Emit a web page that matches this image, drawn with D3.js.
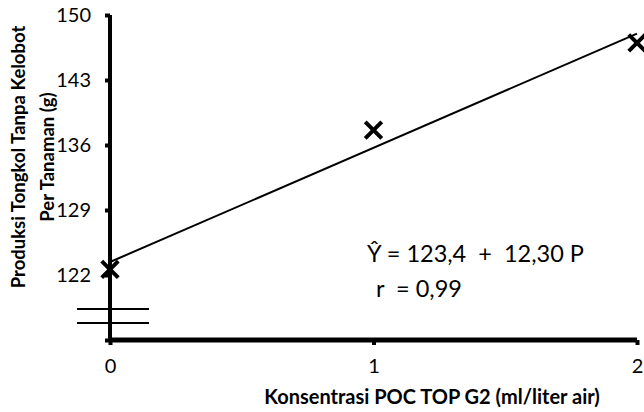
<!DOCTYPE html>
<html>
<head>
<meta charset="utf-8">
<script src="https://cdn.jsdelivr.net/npm/d3@7"></script>
<style>
  body { margin: 0; background: #fff; }
  svg { display: block; font-family: Lato, "Open Sans", sans-serif; }
</style>
</head>
<body>
<div id="chart"></div>
<script>
// --- Data ---
const concentrations = [0, 1, 2];
const yields = [122.6, 137.6, 147.0];
const yTicks = [115, 122, 129, 136, 143, 150];
const xTicks = [0, 1, 2];
const fitIntercept = 123.4;
const fitSlope = 12.3;
const yTitleLines = ["Produksi Tongkol Tanpa Kelobot", "Per Tanaman (g)"];
const xTitle = "Konsentrasi POC TOP G2 (ml/liter air)";
const equationLines = ["Ŷ = 123,4  +  12,30 P", "r  = 0,99"];

// --- Layout ---
const WIDTH = 644;
const HEIGHT = 412;
const X0 = 110, X1 = 637;
const Y0 = 340, Y1 = 15;

const svg = d3.select("#chart").append("svg")
  .attr("width", WIDTH)
  .attr("height", HEIGHT);

const x = d3.scaleLinear().domain([0, 2]).range([X0, X1]);
const y = d3.scaleLinear().domain([115, 150]).range([Y0, Y1]);

// y axis
const yAxis = svg.append("g")
  .attr("transform", `translate(${X0},0)`)
  .call(d3.axisLeft(y).tickValues(yTicks).tickSize(5).tickFormat(d => d === 115 ? "" : d));
yAxis.select(".domain").attr("stroke", "#000").attr("stroke-width", 4)
  .attr("d", `M0,${Y0}V${Y1}`);
yAxis.selectAll(".tick line").attr("stroke", "#000").attr("stroke-width", 4);
yAxis.selectAll(".tick text").attr("x", -19).attr("font-size", 20)
  .attr("font-family", "Lato, sans-serif").attr("fill", "#000");

// x axis
const xAxis = svg.append("g")
  .attr("transform", `translate(0,${Y0})`)
  .call(d3.axisBottom(x).tickValues(xTicks).tickSize(5).tickFormat(d3.format("d")));
xAxis.select(".domain").attr("stroke", "#000").attr("stroke-width", 5)
  .attr("d", `M${X0},0H${X1}`);
xAxis.selectAll(".tick line").attr("stroke", "#000").attr("stroke-width", 4);
xAxis.selectAll(".tick text").attr("y", 19).attr("font-size", 20)
  .attr("font-family", "Lato, sans-serif").attr("fill", "#000");

// axis break marks
[309, 323].forEach(by => {
  svg.append("line")
    .attr("x1", 77).attr("x2", 149)
    .attr("y1", by).attr("y2", by)
    .attr("stroke", "#000").attr("stroke-width", 2);
});

// regression line
svg.append("line")
  .attr("x1", x(0)).attr("y1", y(fitIntercept))
  .attr("x2", x(2)).attr("y2", y(fitIntercept + fitSlope * 2))
  .attr("stroke", "#000").attr("stroke-width", 2);

// markers
const cross = d3.symbol().type(d3.symbolX).size(180);
svg.selectAll("path.pt")
  .data(concentrations)
  .join("path")
  .attr("class", "pt")
  .attr("transform", (d, i) => `translate(${x(d)},${y(yields[i])})`)
  .attr("d", cross)
  .attr("fill", "none")
  .attr("stroke", "#000")
  .attr("stroke-width", 4);

// equation
svg.selectAll("text.eq")
  .data(equationLines)
  .join("text")
  .attr("class", "eq")
  .attr("x", (d, i) => i === 0 ? 367 : 376)
  .attr("y", (d, i) => 262 + i * 35)
  .attr("font-size", 23.5)
  .attr("fill", "#000")
  .attr("xml:space", "preserve")
  .style("white-space", "pre")
  .text(d => d);

// y title
const yTitle = svg.append("text")
  .attr("transform", "translate(0,157) rotate(-90)")
  .attr("text-anchor", "middle")
  .attr("font-weight", "bold")
  .attr("font-size", 18.5)
  .attr("fill", "#000");
yTitle.selectAll("tspan")
  .data(yTitleLines)
  .join("tspan")
  .attr("x", 0)
  .attr("y", (d, i) => 25 + i * 29)
  .text(d => d);

// x title
svg.append("text")
  .attr("x", 432).attr("y", 404)
  .attr("text-anchor", "middle")
  .attr("font-weight", "bold")
  .attr("font-size", 20)
  .attr("fill", "#000")
  .text(xTitle);
</script>
</body>
</html>
